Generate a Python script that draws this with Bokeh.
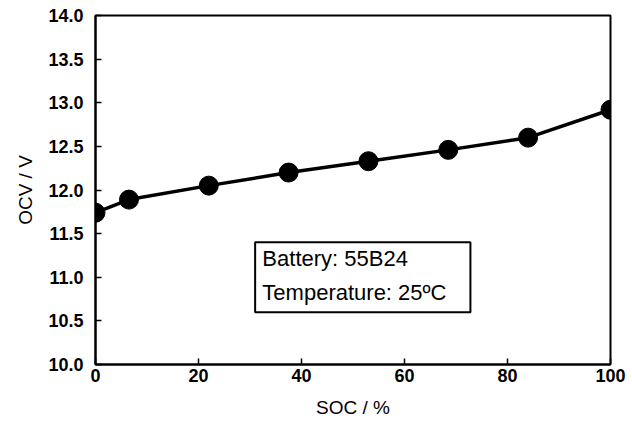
from bokeh.plotting import figure
from bokeh.models import Range1d, Label, BoxAnnotation, FixedTicker, CustomJSTickFormatter
from bokeh.embed import file_html
from bokeh.resources import INLINE

soc = [0, 6.5, 22, 37.5, 53, 68.5, 84, 100]
ocv = [11.74, 11.89, 12.05, 12.20, 12.33, 12.46, 12.60, 12.92]
x_ticks = [0, 20, 40, 60, 80, 100]
y_ticks = [10.0, 10.5, 11.0, 11.5, 12.0, 12.5, 13.0, 13.5, 14.0]
box_lines = ["Battery: 55B24", "Temperature: 25ºC"]

p = figure(width=632, height=426, output_backend="svg", toolbar_location=None,
           x_range=Range1d(0, 100), y_range=Range1d(10, 14),
           min_border_left=95, min_border_right=22, min_border_top=15, min_border_bottom=62)
p.background_fill_color = "white"
p.border_fill_color = "white"
p.outline_line_color = "black"
p.outline_line_width = 2
p.grid.visible = False

tick_font = "'Liberation Sans Narrow', 'Liberation Sans'"
for ax in (p.xaxis[0], p.yaxis[0]):
    ax.axis_line_width = 2
    ax.axis_line_color = "black"
    ax.major_tick_in = 6
    ax.major_tick_out = 0
    ax.major_tick_line_width = 1.5
    ax.minor_tick_line_color = None
    ax.major_label_text_font = tick_font
    ax.major_label_text_font_style = "bold"
    ax.major_label_text_font_size = "18px"
    ax.major_label_text_color = "black"
    ax.axis_label_text_font = "Liberation Sans"
    ax.axis_label_text_font_style = "normal"
    ax.axis_label_text_font_size = "19px"
    ax.axis_label_text_color = "black"

p.xaxis.ticker = FixedTicker(ticks=x_ticks)
p.yaxis.ticker = FixedTicker(ticks=y_ticks)
p.yaxis.formatter = CustomJSTickFormatter(code="return tick.toFixed(1);")
p.xaxis.axis_label = "SOC / %"
p.yaxis.axis_label = "OCV / V"
p.xaxis.major_label_standoff = 4
p.yaxis.major_label_standoff = 12
p.xaxis.axis_label_standoff = 12
p.yaxis.axis_label_standoff = 9

p.line(soc, ocv, line_color="black", line_width=3.5)
p.scatter(soc, ocv, size=19, fill_color="black", line_color="black")

box = BoxAnnotation(left=31, right=72.8, top=11.40, bottom=10.60,
                    fill_color="white", fill_alpha=1.0, line_color="black",
                    line_alpha=1.0, line_width=2)
p.add_layout(box)
for txt, yy in zip(box_lines, [11.215, 10.825]):
    p.add_layout(Label(x=32.4, y=yy, text=txt, text_baseline="middle", text_align="left",
                       text_font="Liberation Sans", text_font_size="22px", text_color="black"))

open("out.html", "w").write(file_html(p, INLINE))
